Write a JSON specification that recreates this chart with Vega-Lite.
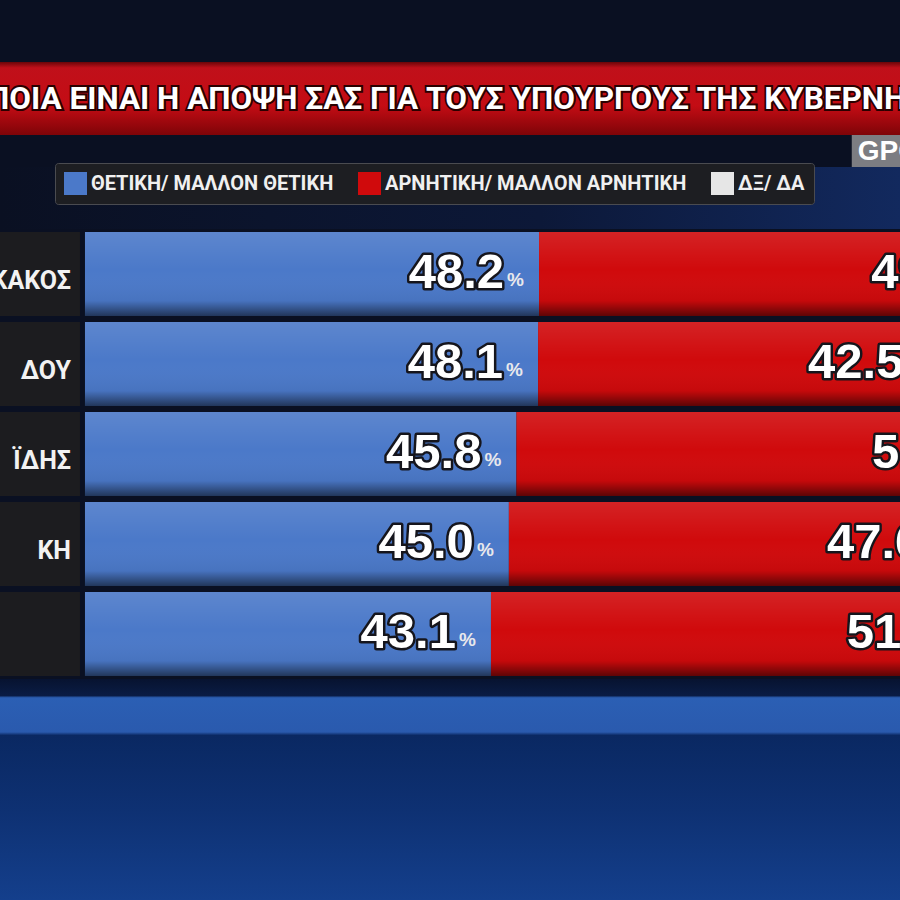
{
  "$schema": "https://vega.github.io/schema/vega-lite/v6.json",
  "background": "#0a1022",
  "padding": {"top": 62, "left": 0, "right": 0, "bottom": 0},
  "spacing": 0,
  "bounds": "flush",
  "config": {"view": {"stroke": null}},
  "vconcat": [
    {
      "width": 900, "height": 73,
      "data": {"values": [{"title": "ΠΟΙΑ ΕΙΝΑΙ Η ΑΠΟΨΗ ΣΑΣ ΓΙΑ ΤΟΥΣ ΥΠΟΥΡΓΟΥΣ ΤΗΣ ΚΥΒΕΡΝΗΣΗΣ;"}]},
      "layer": [
        {
          "mark": {"type": "rect", "color": {"gradient": "linear", "x1": 0, "y1": 0, "x2": 0, "y2": 1,
            "stops": [{"offset": 0, "color": "#6a0508"}, {"offset": 0.08, "color": "#c0101a"}, {"offset": 0.6, "color": "#c40c14"}, {"offset": 1, "color": "#7e0408"}]}},
          "encoding": {}
        },
        {
          "mark": {"type": "text", "clip": true, "align": "left", "baseline": "middle", "dx": -463, "dy": 1,
            "font": "Roboto", "fontSize": 31.5, "fontWeight": "bold", "color": "#2a0000", "stroke": "#2a0000", "strokeWidth": 4},
          "encoding": {"text": {"field": "title"}}
        },
        {
          "mark": {"type": "text", "clip": true, "align": "left", "baseline": "middle", "dx": -463, "dy": 1,
            "font": "Roboto", "fontSize": 31.5, "fontWeight": "bold", "color": "#ffffff"},
          "encoding": {"text": {"field": "title"}}
        }
      ]
    },
    {
      "width": 900, "height": 32,
      "data": {"values": [{"source": "GPO"}]},
      "layer": [
        {
          "mark": {"type": "rect", "color": "#7c7d82", "clip": true},
          "encoding": {
            "x": {"datum": 81.4, "type": "quantitative", "scale": {"domain": [-9.02, 86.52], "nice": false, "zero": false}, "axis": null},
            "x2": {"datum": 100}
          }
        },
        {
          "mark": {"type": "text", "clip": true, "align": "left", "baseline": "middle", "dx": 6, "dy": 1,
            "font": "Liberation Sans", "fontSize": 28, "fontWeight": "bold", "color": "#ffffff"},
          "encoding": {
            "x": {"datum": 81.4, "type": "quantitative"},
            "text": {"field": "source"}
          }
        }
      ]
    },
    {
      "width": 900, "height": 62,
      "data": {"values": [{}]},
      "mark": {"type": "rect", "color": {"gradient": "linear", "x1": 0, "y1": 0, "x2": 1, "y2": 0,
        "stops": [{"offset": 0, "color": "#0a1022"}, {"offset": 0.6, "color": "#0c1838"}, {"offset": 1, "color": "#12295e"}]}},
      "encoding": {}
    },
    {
      "width": 900, "height": 450,
      "data": {"values": [
        {"row": 1, "name": "ΚΑΚΟΣ", "pos": 48.2, "neg": 49.1, "dk": 2.7},
        {"row": 2, "name": "ΔΟΥ", "pos": 48.1, "neg": 42.5, "dk": 9.4},
        {"row": 3, "name": "ΪΔΗΣ", "pos": 45.8, "neg": 51.6, "dk": 2.6},
        {"row": 4, "name": "ΚΗ", "pos": 45.0, "neg": 47.6, "dk": 7.4},
        {"row": 5, "name": "", "pos": 43.1, "neg": 51.6, "dk": 5.3}
      ]},
      "encoding": {
        "y": {"field": "row", "type": "ordinal", "axis": null, "scale": {"paddingInner": 0.067, "paddingOuter": 0.033}}
      },
      "layer": [
        {
          "mark": {"type": "rect", "color": "#1c1c1f", "clip": true},
          "encoding": {
            "x": {"datum": -20, "type": "quantitative", "scale": {"domain": [-9.02, 86.52], "nice": false, "zero": false}, "axis": null},
            "x2": {"datum": -0.53}
          }
        },
        {
          "mark": {"type": "text", "clip": true, "align": "right", "baseline": "alphabetic", "dx": -9, "dy": 15,
            "font": "Roboto", "fontSize": 25, "fontWeight": "bold", "color": "#f2f2f2"},
          "encoding": {
            "x": {"datum": -0.53, "type": "quantitative"},
            "text": {"field": "name"}
          }
        },
        {
          "transform": [
            {"fold": ["pos", "neg", "dk"], "as": ["key", "pct"]},
            {"stack": "pct", "groupby": ["row"], "as": ["p0", "p1"]}
          ],
          "layer": [
            {
              "mark": {"type": "rect", "clip": true},
              "encoding": {
                "x": {"field": "p0", "type": "quantitative"},
                "x2": {"field": "p1"},
                "color": {
                  "field": "key", "type": "nominal",
                  "scale": {"domain": ["pos", "neg", "dk"], "range": ["#4b79c9", "#d00a0c", "#e6e6e6"]},
                  "legend": {
                    "orient": "none", "legendX": 55, "legendY": 101, "direction": "horizontal", "title": null,
                    "labelExpr": "datum.value == 'pos' ? 'ΘΕΤΙΚΗ/ ΜΑΛΛΟΝ ΘΕΤΙΚΗ' : datum.value == 'neg' ? 'ΑΡΝΗΤΙΚΗ/ ΜΑΛΛΟΝ ΑΡΝΗΤΙΚΗ' : 'ΔΞ/ ΔΑ'",
                    "symbolType": "square", "symbolSize": 529, "symbolStrokeWidth": 0, "symbolOpacity": 1,
                    "labelFont": "Roboto", "labelFontSize": 20, "labelFontWeight": "bold", "labelColor": "#f0f0f0",
                    "labelOffset": 4, "labelLimit": 0, "columnPadding": 24,
                    "fillColor": "#1d1e22", "strokeColor": "#4a4b50", "padding": 9, "cornerRadius": 3
                  }
                }
              }
            },
            {
              "mark": {"type": "rect", "clip": true, "color": {"gradient": "linear", "x1": 0, "y1": 0, "x2": 0, "y2": 1,
                "stops": [{"offset": 0, "color": "rgba(255,255,255,0.10)"}, {"offset": 0.45, "color": "rgba(255,255,255,0)"}, {"offset": 0.82, "color": "rgba(0,0,0,0.05)"}, {"offset": 1, "color": "rgba(0,0,0,0.55)"}]}},
              "encoding": {
                "x": {"field": "p0", "type": "quantitative"},
                "x2": {"field": "p1"}
              }
            },
            {
              "mark": {"type": "text", "clip": true, "align": "right", "baseline": "alphabetic", "dx": -35, "dy": 14,
                "font": "Liberation Sans", "fontSize": 49, "fontWeight": "bold", "color": "#15151c", "stroke": "#15151c", "strokeWidth": 5, "strokeJoin": "round"},
              "encoding": {
                "x": {"field": "p1", "type": "quantitative"},
                "text": {"field": "pct", "format": ".1f"}
              }
            },
            {
              "mark": {"type": "text", "clip": true, "align": "right", "baseline": "alphabetic", "dx": -35, "dy": 14,
                "font": "Liberation Sans", "fontSize": 49, "fontWeight": "bold", "color": "#ffffff"},
              "encoding": {
                "x": {"field": "p1", "type": "quantitative"},
                "text": {"field": "pct", "format": ".1f"}
              }
            },
            {
              "mark": {"type": "text", "clip": true, "text": "%", "align": "left", "baseline": "alphabetic", "dx": -32, "dy": 12,
                "font": "Liberation Sans", "fontSize": 19, "fontWeight": "bold", "color": "#e8e8ec"},
              "encoding": {
                "x": {"field": "p1", "type": "quantitative"}
              }
            }
          ]
        }
      ]
    },
    {
      "width": 900, "height": 221,
      "data": {"values": [{}]},
      "mark": {"type": "rect", "color": {"gradient": "linear", "x1": 0, "y1": 0, "x2": 0, "y2": 1,
        "stops": [{"offset": 0, "color": "#071330"}, {"offset": 0.075, "color": "#0a1c44"}, {"offset": 0.085, "color": "#2b5fb4"}, {"offset": 0.24, "color": "#2a5aae"}, {"offset": 0.255, "color": "#0a2862"}, {"offset": 0.6, "color": "#0e3173"}, {"offset": 1, "color": "#143f8c"}]}},
      "encoding": {}
    }
  ]
}
